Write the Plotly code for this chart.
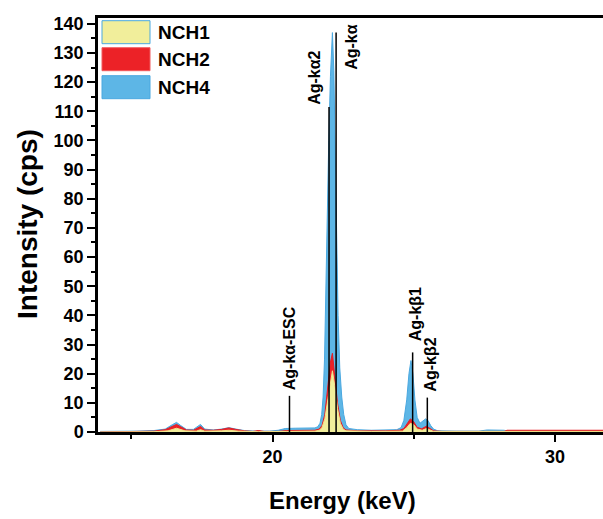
import plotly.graph_objects as go

# ---------------- data ----------------
series_names = ["NCH1", "NCH2", "NCH4"]

nch4_energy = [13.9, 14.5, 15.2, 15.8, 16.2, 16.45, 16.6, 16.75, 16.95, 17.2, 17.35, 17.45, 17.6,
               17.9, 18.2, 18.45, 18.7, 19.0, 19.4, 19.9, 20.2, 20.45, 20.8, 21.2, 21.5,
               21.6, 21.68, 21.74, 21.79, 21.84, 21.88, 21.93, 21.99, 22.05, 22.12, 22.17, 22.22,
               22.27, 22.32, 22.38, 22.45, 22.52, 22.6, 22.7, 23.0, 23.5, 24.0, 24.4, 24.55,
               24.65, 24.75, 24.83, 24.9, 24.97, 25.04, 25.12, 25.22, 25.32, 25.42, 25.5, 25.6,
               25.7, 25.85, 26.5, 27.3, 27.6, 28.2, 28.3, 31.8]
nch4_counts = [0.2, 0.2, 0.3, 0.5, 1.0, 2.5, 3.3, 2.2, 0.9, 0.9, 2.0, 2.6, 1.0,
               0.7, 1.0, 1.5, 1.0, 0.5, 0.3, 0.3, 0.6, 1.2, 1.3, 1.3, 1.4,
               1.8, 3.0, 6.0, 12.0, 25.0, 48.0, 75.0, 100.0, 122.0, 137.0, 124.0, 95.0,
               65.0, 40.0, 22.0, 12.0, 6.0, 2.5, 1.2, 0.8, 0.6, 0.6, 0.8, 1.5,
               4.0, 11.0, 20.0, 24.5, 20.0, 11.0, 5.0, 3.0, 3.8, 4.5, 4.0, 2.2,
               1.0, 0.4, 0.3, 0.3, 0.7, 0.6, 0.3, 0.3]

nch2_energy = [13.9, 15.0, 15.8, 16.2, 16.45, 16.6, 16.75, 16.95, 17.2, 17.35, 17.45, 17.6,
               17.9, 18.2, 18.45, 18.7, 19.0, 19.3, 19.5, 19.7, 20.2, 20.5, 21.0, 21.5,
               21.65, 21.75, 21.85, 21.95, 22.05, 22.12, 22.2, 22.3, 22.4, 22.5, 22.6, 23.0,
               24.0, 24.5, 24.65, 24.77, 24.88, 25.0, 25.12, 25.28, 25.45, 25.58, 25.7, 26.0,
               28.2, 28.3, 31.8]
nch2_counts = [0.0, 0.1, 0.3, 0.8, 2.0, 2.6, 1.8, 0.7, 0.6, 1.5, 1.9, 0.7,
               0.6, 0.9, 1.4, 0.9, 0.4, 0.2, 0.5, 0.2, 0.2, 0.5, 0.5, 0.6,
               1.0, 2.2, 6.0, 15.0, 24.0, 27.0, 20.0, 10.0, 4.0, 1.5, 0.7, 0.4,
               0.4, 0.6, 1.2, 2.8, 4.5, 3.5, 1.6, 1.1, 2.0, 1.2, 0.4, 0.2,
               0.2, 0.6, 0.6]

nch1_energy = [13.9, 15.8, 16.3, 16.6, 16.9, 17.3, 17.45, 17.6, 18.2, 18.45, 18.8, 19.5,
               20.5, 21.5, 21.65, 21.75, 21.85, 21.95, 22.05, 22.12, 22.2, 22.3, 22.4, 22.5,
               22.6, 23.5, 24.6, 24.75, 24.88, 25.0, 25.12, 25.3, 25.45, 25.58, 25.7, 31.8]
nch1_counts = [0.0, 0.1, 0.4, 1.3, 0.4, 0.3, 0.8, 0.3, 0.4, 0.6, 0.3, 0.1,
               0.2, 0.3, 0.6, 1.5, 4.5, 11.0, 18.0, 21.0, 16.0, 8.0, 3.0, 1.0,
               0.4, 0.2, 0.3, 1.5, 3.0, 2.5, 1.0, 0.6, 1.2, 0.6, 0.2, 0.2]

peak_labels = ["Ag-kα-ESC", "Ag-kα2", "Ag-kα", "Ag-kβ1", "Ag-kβ2"]
peak_energy = [20.6, 22.0, 22.25, 24.96, 25.48]
peak_height = [12.4, 111.5, 137.0, 27.3, 11.8]

x_ticks = [20, 30]
y_ticks = list(range(0, 141, 10))

# ---------------- styling / layout ----------------
FONT = "Liberation Sans, Arial, sans-serif"
fill_colors = {"NCH1": "#F1EE9B", "NCH2": "#EC2227", "NCH4": "#5DB6E6"}
edge_colors = {"NCH1": "#EFE48A", "NCH2": "#E41E25", "NCH4": "#4AA8E0"}

W, H = 603, 519
L, R, T, B = 98, 0, 18, 87
PW, PH = W - L - R, H - T - B


def px_x(p):
    return (p - L) / PW


def px_y(p):
    return (H - B - p) / PH


fig = go.Figure()

# draw order: NCH4 back, NCH2, NCH1 front
for name, ex, cy in [("NCH4", nch4_energy, nch4_counts),
                     ("NCH2", nch2_energy, nch2_counts),
                     ("NCH1", nch1_energy, nch1_counts)]:
    fig.add_trace(go.Scatter(
        x=ex, y=cy, mode="lines", name=name, fill="tozeroy",
        fillcolor=fill_colors[name],
        line=dict(color=edge_colors[name], width=1),
        showlegend=False, hoverinfo="x+y+name"))

# peak marker lines
lx, ly = [], []
for e, h in zip(peak_energy, peak_height):
    lx += [e, e, None]
    ly += [0, h, None]
fig.add_trace(go.Scatter(x=lx, y=ly, mode="lines",
                         line=dict(color="black", width=1.5),
                         showlegend=False, hoverinfo="skip"))

# peak labels (offsets relative to the marker lines)
label_dx = [-0.02, -0.50, 0.56, 0.08, 0.10]
label_y = [13.6, 111.5, 123.5, 30.4, 13.2]
for lab, e, dx, yy in zip(peak_labels, peak_energy, label_dx, label_y):
    fig.add_annotation(x=e + dx, y=yy, text="<b>%s</b>" % lab, textangle=-90, showarrow=False,
                       xanchor="center", yanchor="bottom",
                       font=dict(family=FONT, size=16, color="black"))

# legend boxes (drawn as shapes for the large swatches)
box_tops = [20.7, 47.7, 75.7]
for name, top in zip(series_names, box_tops):
    fig.add_shape(type="rect", xref="paper", yref="paper",
                  x0=px_x(102), x1=px_x(150), y0=px_y(top + 23), y1=px_y(top),
                  fillcolor=fill_colors[name],
                  line=dict(color="#4AA8E0" if name != "NCH2" else "#F05A5E", width=1))
    fig.add_annotation(xref="paper", yref="paper", x=px_x(156), y=px_y(top + 11.5),
                       text="<b>%s</b>" % name, showarrow=False,
                       xanchor="left", yanchor="middle",
                       font=dict(family=FONT, size=19, color="black"))

# axis titles
fig.add_annotation(xref="paper", yref="paper", x=px_x(342), y=px_y(500),
                   text="<b>Energy (keV)</b>", showarrow=False,
                   xanchor="center", yanchor="middle",
                   font=dict(family=FONT, size=24, color="black"))
fig.add_annotation(xref="paper", yref="paper", x=px_x(27), y=px_y(224),
                   text="<b>Intensity (cps)</b>", showarrow=False, textangle=-90,
                   xanchor="center", yanchor="middle",
                   font=dict(family=FONT, size=28, color="black"))

fig.update_layout(
    width=W, height=H,
    margin=dict(l=L, r=R, t=T, b=B, pad=0),
    plot_bgcolor="white", paper_bgcolor="white",
    font=dict(family=FONT, color="black"),
    showlegend=False,
    xaxis=dict(range=[13.82, 31.7], tickmode="array", tickvals=x_ticks,
               ticks="outside", ticklen=7, tickwidth=2, tickcolor="black",
               showline=True, linewidth=2.5, linecolor="black", mirror=True,
               showgrid=False, zeroline=False,
               tickfont=dict(family=FONT, size=18, color="black", weight="bold"),
               minor=dict(dtick=5, tick0=0, ticks="outside", ticklen=4, tickwidth=2,
                          tickcolor="black", showgrid=False)),
    yaxis=dict(range=[0, 142], tickmode="array", tickvals=y_ticks,
               ticks="outside", ticklen=8, tickwidth=2, tickcolor="black",
               showline=True, linewidth=2.5, linecolor="black", mirror=False,
               showgrid=False, zeroline=False,
               tickfont=dict(family=FONT, size=18, color="black", weight="bold"),
               minor=dict(dtick=5, tick0=0, ticks="outside", ticklen=4, tickwidth=2,
                          tickcolor="black", showgrid=False)),
)

fig.write_html("out.html", config={"displayModeBar": False},
               post_script="document.body.style.margin='0';document.body.style.overflow='hidden';")
